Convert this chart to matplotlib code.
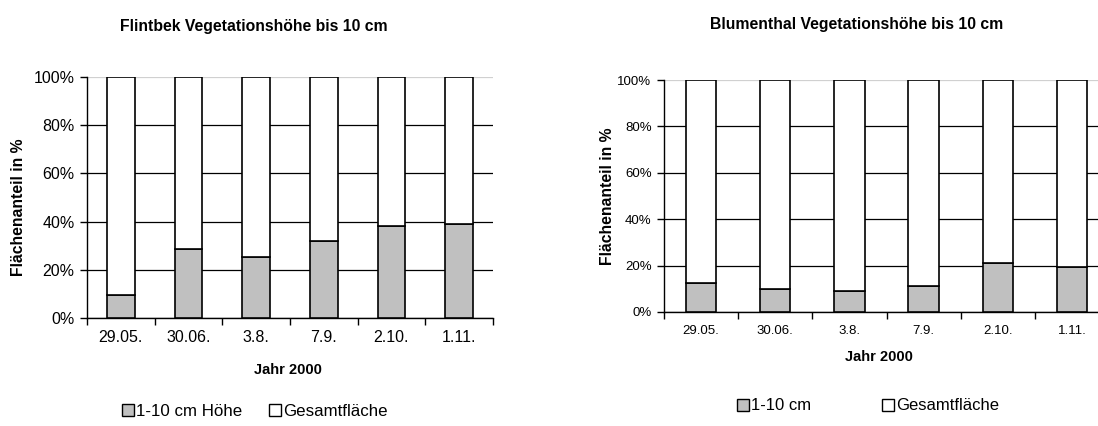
import numpy as np
import matplotlib
matplotlib.use("Agg")
import matplotlib.pyplot as plt
from matplotlib.patches import Patch

plt.rcParams['font.family'] = ['Liberation Sans', 'DejaVu Sans']

# Daten
dates = ['29.05.', '30.06.', '3.8.', '7.9.', '2.10.', '1.11.']
flintbek_low = [9.4, 28.6, 25.4, 32.1, 38.3, 39.0]      # 1-10 cm Höhe, %
blumenthal_low = [12.4, 9.7, 9.2, 11.3, 21.1, 19.6]     # 1-10 cm, %
total = 100

W, H = 1098, 426
fig = plt.figure(figsize=(W / 100, H / 100), dpi=100)


def px_axes(x0, y0, x1, y1):
    # Pixelkoordinaten (oben links) -> Figure-Anteil
    return fig.add_axes([x0 / W, 1 - y1 / H, (x1 - x0) / W, (y1 - y0) / H])


def draw_chart(ax, low, tick_size):
    x = np.arange(len(dates))
    low = np.array(low)
    ax.bar(x, low, width=0.41, color='#c0c0c0', edgecolor='black', linewidth=1.2, zorder=3)
    ax.bar(x, total - low, bottom=low, width=0.41, color='white', edgecolor='black',
           linewidth=1.2, zorder=3)
    ax.set_xlim(-0.5, len(dates) - 0.5)
    ax.set_ylim(0, 100)
    ax.set_yticks(range(0, 101, 20))
    ax.set_yticklabels([f'{v}%' for v in range(0, 101, 20)], fontsize=tick_size)
    ax.set_xticks(x)
    ax.set_xticklabels(dates, fontsize=tick_size)
    ax.set_xticks(np.arange(len(dates) + 1) - 0.5, minor=True)
    ax.tick_params(axis='x', which='major', length=0, pad=9)
    ax.tick_params(axis='x', which='minor', length=5, width=1, direction='out')
    ax.tick_params(axis='y', length=5, width=1, direction='out', pad=4)
    ax.grid(axis='y', color='black', linewidth=0.9, zorder=0)
    ax.get_ygridlines()[-1].set_color('#d0d0d0')
    for s in ['top', 'right']:
        ax.spines[s].set_visible(False)
    ax.spines['left'].set_linewidth(1)
    ax.spines['bottom'].set_linewidth(1)


# Flintbek
ax1 = px_axes(87, 77, 493, 318)
draw_chart(ax1, flintbek_low, 11.5)
fig.text(254 / W, 1 - 26 / H, 'Flintbek Vegetationshöhe bis 10 cm', ha='center', va='center',
         fontsize=11.3, fontweight='bold')
fig.text(19 / W, 1 - 207 / H, 'Flächenanteil in %', rotation=90, ha='center', va='center',
         fontsize=11.3, fontweight='bold')
fig.text(288 / W, 1 - 370 / H, 'Jahr 2000', ha='center', va='center', fontsize=10.5,
         fontweight='bold')
fig.legend(handles=[Patch(facecolor='#c0c0c0', edgecolor='black', label='1-10 cm Höhe'),
                    Patch(facecolor='white', edgecolor='black', label='Gesamtfläche')],
           loc='center', bbox_to_anchor=(255 / W, 1 - 411 / H), ncol=2, frameon=False,
           fontsize=12.2, handlelength=0.7, handleheight=0.7, handletextpad=0.12,
           columnspacing=1.6, borderpad=0)

# Blumenthal
ax2 = px_axes(664, 80, 1109, 312)
draw_chart(ax2, blumenthal_low, 9.5)
fig.text(857 / W, 1 - 25 / H, 'Blumenthal Vegetationshöhe bis 10 cm', ha='center', va='center',
         fontsize=11.3, fontweight='bold')
fig.text(608 / W, 1 - 196 / H, 'Flächenanteil in %', rotation=90, ha='center', va='center',
         fontsize=11.3, fontweight='bold')
fig.text(879 / W, 1 - 357 / H, 'Jahr 2000', ha='center', va='center', fontsize=10.5,
         fontweight='bold')
fig.legend(handles=[Patch(facecolor='#c0c0c0', edgecolor='black', label='1-10 cm'),
                    Patch(facecolor='white', edgecolor='black', label='Gesamtfläche')],
           loc='center', bbox_to_anchor=(868 / W, 1 - 406 / H), ncol=2, frameon=False,
           fontsize=12, handlelength=0.7, handleheight=0.7, handletextpad=0.12,
           columnspacing=4.3, borderpad=0)

fig.savefig('out.png', dpi=100)
